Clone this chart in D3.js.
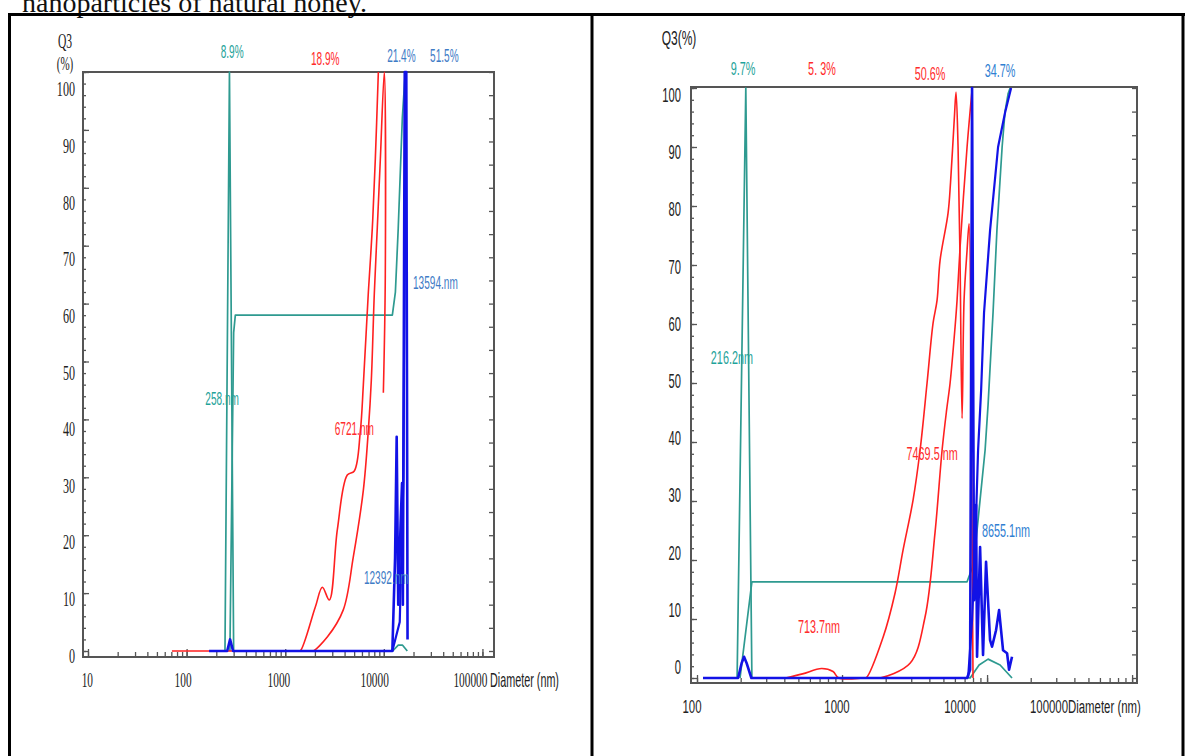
<!DOCTYPE html>
<html>
<head>
<meta charset="utf-8">
<script src="https://cdn.jsdelivr.net/npm/d3@7"></script>
<style>
  body { margin: 0; background: #fff; }
  svg { display: block; }
</style>
</head>
<body>
<svg id="page" width="1185" height="756"></svg>
<script>
// ---- data (diameter nm, Q3 %) ----
const yTickVals = [0, 10, 20, 30, 40, 50, 60, 70, 80, 90, 100];
const xTicksLeft = [10, 100, 1000, 10000, 100000];
const xTicksRight = [100, 1000, 10000];

// left panel
const tealFreqL = [[245,0],[272,100],[300,0],[12300,0],[14000,1],[15500,1],[17300,0]];
const tealCumL  = [[275,0],[300,55],[312,58],[12200,58],[13100,62],[14000,73],[15400,92],[16500,100]];
const redAL = [[71,0],[1350,0],[1420,0],[2020,7.6],[2380,11],[2800,8.8],[3380,21],[4260,30.4],[5020,31.1],
               [5780,38],[6200,46],[6970,62],[7640,73],[8200,85],[8800,100]];
const redBL = [[1420,0],[1850,0],[1920,0],[2670,2.4],[3880,7.1],[4900,16.2],[6200,27.8],[6970,38.2],[7470,46.8],
               [8010,61.8],[8590,73.2],[9210,84.8],[10110,100],[10350,65],[9890,44.6]];
const blueFreqL = [[169,0],[258,0],[276,2],[296,0],[12200,0],[13000,16],[13500,37],[14000,8],[14800,22],
                   [15300,29],[15600,8],[16300,100],[16900,100],[17400,2]];
const blueCumL = [[12200,0],[14500,5],[15800,30],[16300,70],[16600,100]];
const notesL = [["8.9%",290,103.5,"teal"],["18.9%",2547,102.4,"red"],["21.4%",15070,102.8,"steel"],
                ["51.5%",41100,102.8,"steel"],["258.nm",229,43.7,"teal"],["6721.nm",5020,38.5,"red"],
                ["13594.nm",33340,63.7,"steel"],["12392.nm",10590,12.8,"steel"]];

// right panel
const tealFreqR = [[189,0],[217,100],[239,0],[7640,0],[8810,2.2],[10160,3.2],[12300,2.2],[14860,0]];
const tealCumR  = [[198,0],[239,16.3],[7280,16.3],[7880,18.6],[8400,23.4],[8950,30.2],[9690,38.6],
                   [10160,46.3],[11000,62],[11700,76],[12700,90],[13300,96],[13960,99],[14420,100]];
const redAR = [[408,0],[534,0.7],[723,1.6],[867,1.1],[949,0],[1400,0],[1466,0],[1919,6.9],[2321,14.4],[2636,21.7],
               [3090,30.2],[3452,38.6],[3857,50],[4245,60.2],[4520,64],[4742,70.8],[5383,78.8],[5600,84],
               [5950,95],[6110,99.3],[6310,90],[6515,70.3],[6725,44],[6940,64],[7280,72.5],[7515,77],
               [7760,47],[8000,0]];
const redBR = [[1170,0],[1760,0],[1828,0],[2944,2.5],[3733,10.3],[4375,24.6],[4895,38.6],[5260,45.4],[5560,50],
               [6017,59.5],[6210,64],[6515,73],[7280,90],[7880,99.7]];
const blueFreqR = [[110,0],[192,0],[203,2.5],[211,3.6],[220,2.5],[237,0],[7280,0],[7640,1.4],[7880,100],
                   [8130,13.2],[8400,29.3],[8530,3.6],[8950,22.2],[9380,3.9],[9840,19.7],[10490,6.4],
                   [10820,5.3],[11530,8.1],[12100,11.5],[12890,4.7],[13740,4.2],[14180,1.4],[14860,3.6]];
const blueCumR = [[7400,0],[7880,9.8],[8260,21.7],[8670,38.6],[9100,48.8],[9530,61.9],[10490,75.9],
                  [11910,90],[13300,95.8],[14650,100]];
const notesR = [["9.7%",207.6,103.4,"teal"],["5. 3%",727,103.4,"red"],["50.6%",4045,102.5,"red"],
                ["34.7%",12300,103,"steel2"],["216.2nm",174,54.4,"teal"],["7469.5 nm",4180,38.1,"red"],
                ["8655.1nm",13520,25.1,"steel2"],["713.7nm",693,8.8,"red"]];

// ---- drawing ----
const col = { teal: "#2e9a90", red: "#ff2020", blue: "#1212e6" };
const noteCol = { teal: "#1fa39a", red: "#ff2b2b", steel: "#3f7cc6", steel2: "#2f80d2" };
const SERIF = '"Liberation Serif", "Times New Roman", serif';
const SANS = '"Liberation Sans", Arial, sans-serif';

const svg = d3.select("#page");

function say(g, s, x, y, o) {
  return g.append("text")
    .attr("transform", `translate(${x},${y}) scale(${o.sx},1)`)
    .attr("text-anchor", o.anchor || "middle")
    .attr("dy", "0.35em")
    .style("font-family", o.font)
    .style("font-size", o.size + "px")
    .attr("fill", o.fill || "#222")
    .text(s);
}

// caption line cut off at the top + table borders
svg.append("text").attr("x", 22).attr("y", 12)
  .style("font-family", SERIF).style("font-size", "28px").attr("fill", "#111")
  .text("nanoparticles of natural honey.");

svg.append("g").attr("stroke", "#000").attr("stroke-width", 3)
  .selectAll("line")
  .data([[8, 14.5, 1185, 14.5], [9.5, 14, 9.5, 756], [592, 14, 592, 756], [1183, 14, 1183, 756]])
  .join("line")
  .attr("x1", d => d[0]).attr("y1", d => d[1]).attr("x2", d => d[2]).attr("y2", d => d[3]);

function panel(cfg) {
  const g = svg.append("g");
  const x = d3.scaleLog().domain(cfg.xDomain).range([cfg.left, cfg.right]);
  const y = d3.scaleLinear().domain([0, 100]).range([cfg.y0, cfg.y100]);
  const yl = d3.scaleLinear().domain([0, 100]).range(cfg.yLabelRange);

  const tickStyle = a => {
    a.select(".domain").remove();
    a.selectAll("line").attr("stroke", "#555").attr("stroke-width", 1.3);
  };
  g.append("g").attr("transform", `translate(${cfg.left},0)`)
    .call(d3.axisRight(y).tickValues(d3.range(0, 101, 2)).tickSize(3).tickFormat(""))
    .call(tickStyle);
  g.append("g").attr("transform", `translate(${cfg.left},0)`)
    .call(d3.axisRight(y).tickValues(yTickVals).tickSize(6).tickFormat(""))
    .call(tickStyle);
  g.append("g").attr("transform", `translate(${cfg.right},0)`)
    .call(d3.axisLeft(y).tickValues(d3.range(0, 101, 4)).tickSize(5).tickFormat(""))
    .call(tickStyle);
  const minor = x.ticks().filter(v => v >= cfg.xFirst && v <= cfg.xDomain[1]);
  g.append("g").attr("transform", `translate(0,${cfg.bottom})`)
    .call(d3.axisTop(x).tickValues(minor).tickSize(5).tickFormat(""))
    .call(tickStyle);
  g.append("g").attr("transform", `translate(0,${cfg.bottom})`)
    .call(d3.axisTop(x).tickValues(cfg.xTicks).tickSize(8).tickFormat(""))
    .call(tickStyle);

  g.append("rect")
    .attr("x", cfg.left).attr("y", cfg.top)
    .attr("width", cfg.right - cfg.left).attr("height", cfg.bottom - cfg.top)
    .attr("fill", "none").attr("stroke", "#555").attr("stroke-width", 2);

  cfg.series.forEach(s => {
    const line = d3.line().x(d => x(d[0])).y(d => y(d[1]))
      .curve(s.smooth ? d3.curveCatmullRom.alpha(0.5) : d3.curveLinear);
    g.append("path").datum(s.data).attr("d", line)
      .attr("fill", "none").attr("stroke", s.color).attr("stroke-width", s.w)
      .attr("stroke-linejoin", "round");
  });

  yTickVals.forEach(v => say(g, String(v), cfg.yLabelX, yl(v), Object.assign({ anchor: "end" }, cfg.tickFont)));

  cfg.notes.forEach(n => say(g, n[0], x(n[1]), y(n[2]), Object.assign({ fill: noteCol[n[3]] }, cfg.noteFont)));

  return { g, x, y };
}

// left panel
const L = panel({
  xDomain: [8.9, 131000], left: 83, right: 494, top: 72, bottom: 657,
  y0: 651, y100: 72, yLabelRange: [655, 88.7], yLabelX: 75, xFirst: 10,
  xTicks: xTicksLeft,
  tickFont: { font: SERIF, size: 22, sx: 0.55 },
  noteFont: { font: SANS, size: 19, sx: 0.53 },
  notes: notesL,
  series: [
    { data: tealFreqL, color: col.teal, w: 1.7 },
    { data: tealCumL, color: col.teal, w: 1.7 },
    { data: redAL, color: col.red, w: 1.6, smooth: true },
    { data: redBL, color: col.red, w: 1.6, smooth: true },
    { data: blueCumL, color: col.blue, w: 2.2 },
    { data: blueFreqL, color: col.blue, w: 2.6 }
  ]
});
say(L.g, "Q3", 65, 41, { font: SERIF, size: 20, sx: 0.58 });
say(L.g, "(%)", 65, 63, { font: SERIF, size: 19, sx: 0.58 });
xTicksLeft.forEach(v => say(L.g, String(v), L.x(v) + 5, 680, { font: SERIF, size: 21, sx: 0.54, anchor: "end" }));
say(L.g, "Diameter (nm)", 490, 680, { font: SANS, size: 20, sx: 0.54, anchor: "start" });

// right panel
const R = panel({
  xDomain: [90.9, 108100], left: 691, right: 1137, top: 87, bottom: 683,
  y0: 678, y100: 88, yLabelRange: [667, 95], yLabelX: 681, xFirst: 100,
  xTicks: xTicksRight.concat([100000]),
  tickFont: { font: SANS, size: 20, sx: 0.56 },
  noteFont: { font: SANS, size: 19, sx: 0.57 },
  notes: notesR,
  series: [
    { data: tealFreqR, color: col.teal, w: 1.7 },
    { data: tealCumR, color: col.teal, w: 1.7 },
    { data: redAR, color: col.red, w: 1.6, smooth: true },
    { data: redBR, color: col.red, w: 1.6, smooth: true },
    { data: blueCumR, color: col.blue, w: 2.2 },
    { data: blueFreqR, color: col.blue, w: 2.6 }
  ]
});
say(R.g, "Q3(%)", 679, 38, { font: SANS, size: 20, sx: 0.6 });
const rightLabelShift = [-5, -5, -27];
xTicksRight.forEach((v, i) => say(R.g, String(v), R.x(v) + rightLabelShift[i], 706, { font: SANS, size: 19, sx: 0.6 }));
say(R.g, "100000Diameter (nm)", 1030, 706, { font: SANS, size: 19, sx: 0.6, anchor: "start" });
</script>
</body>
</html>
